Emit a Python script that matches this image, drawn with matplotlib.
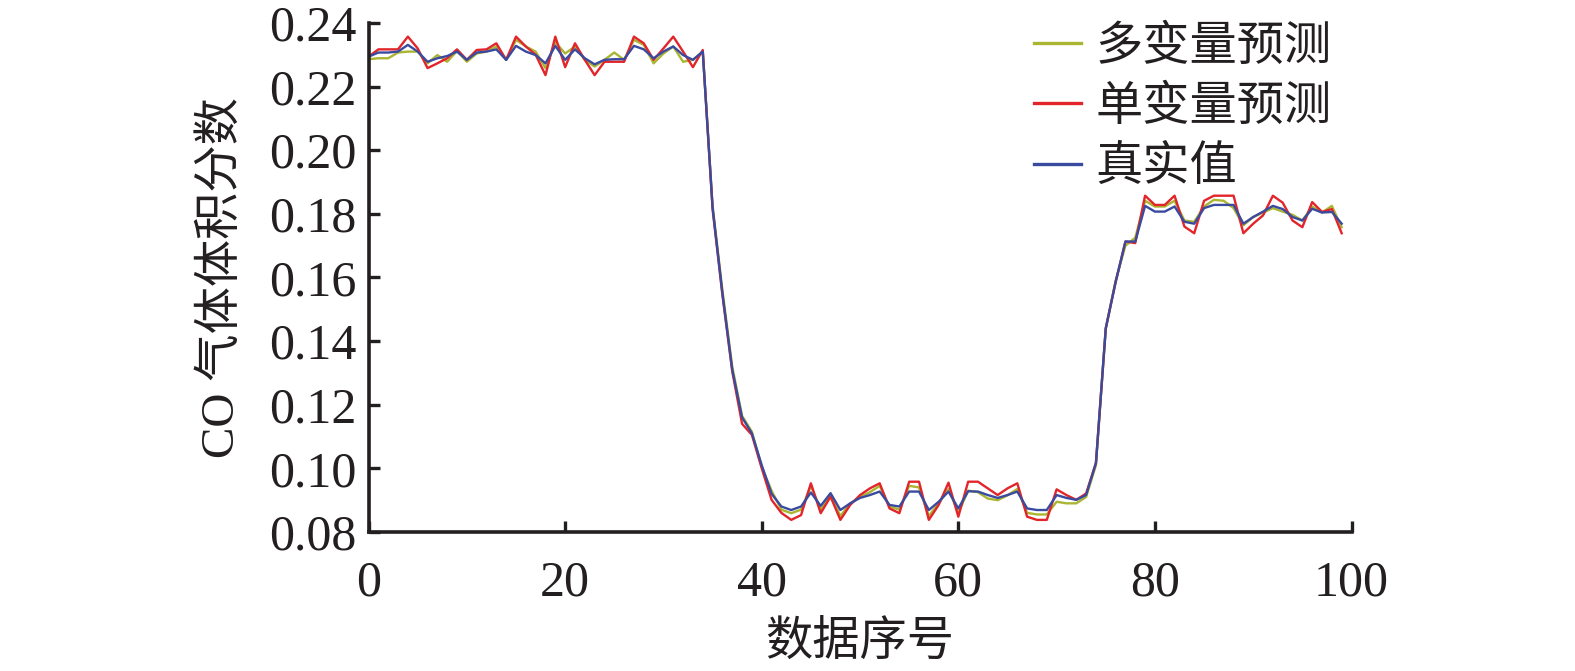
import matplotlib
matplotlib.use("Agg")
import matplotlib.pyplot as plt
import numpy as np

# 数据序号 0..99
x = np.arange(100)

# 真实值
real = [0.2294, 0.2307, 0.2307, 0.2310, 0.2331, 0.2310, 0.2278, 0.2289, 0.2296, 0.2310,
        0.2284, 0.2307, 0.2310, 0.2317, 0.2284, 0.2328, 0.2310, 0.2299, 0.2273, 0.2328,
        0.2284, 0.2317, 0.2289, 0.2270, 0.2284, 0.2286, 0.2286, 0.2328, 0.2317, 0.2289,
        0.2310, 0.2326, 0.2299, 0.2284, 0.2310, 0.1820, 0.1550, 0.1310, 0.1160, 0.1110,
        0.1010, 0.0920, 0.0880, 0.0869, 0.0880, 0.0924, 0.0882, 0.0922, 0.0869, 0.0890,
        0.0907, 0.0916, 0.0927, 0.0885, 0.0880, 0.0927, 0.0927, 0.0869, 0.0895, 0.0927,
        0.0874, 0.0928, 0.0927, 0.0916, 0.0907, 0.0916, 0.0927, 0.0874, 0.0869, 0.0869,
        0.0916, 0.0907, 0.0901, 0.0916, 0.1017, 0.1440, 0.1585, 0.1713, 0.1713, 0.1825,
        0.1807, 0.1807, 0.1823, 0.1775, 0.1769, 0.1818, 0.1828, 0.1828, 0.1828, 0.1769,
        0.1790, 0.1807, 0.1825, 0.1815, 0.1790, 0.1779, 0.1816, 0.1804, 0.1806, 0.1769]

# 单变量预测
single = [0.2294, 0.2317, 0.2317, 0.2317, 0.2357, 0.2320, 0.2258, 0.2273, 0.2289, 0.2317,
          0.2284, 0.2315, 0.2317, 0.2336, 0.2284, 0.2357, 0.2326, 0.2300, 0.2236, 0.2357,
          0.2261, 0.2336, 0.2284, 0.2236, 0.2278, 0.2278, 0.2278, 0.2357, 0.2336, 0.2284,
          0.2320, 0.2357, 0.2310, 0.2261, 0.2315, 0.1815, 0.1545, 0.1305, 0.1140, 0.1105,
          0.1000, 0.0901, 0.0860, 0.0838, 0.0853, 0.0953, 0.0859, 0.0911, 0.0838, 0.0885,
          0.0916, 0.0937, 0.0953, 0.0874, 0.0859, 0.0958, 0.0958, 0.0838, 0.0885, 0.0955,
          0.0848, 0.0958, 0.0958, 0.0937, 0.0916, 0.0937, 0.0953, 0.0848, 0.0838, 0.0838,
          0.0934, 0.0916, 0.0901, 0.0921, 0.1017, 0.1440, 0.1585, 0.1713, 0.1708, 0.1857,
          0.1828, 0.1828, 0.1857, 0.1760, 0.1739, 0.1841, 0.1857, 0.1857, 0.1857, 0.1739,
          0.1769, 0.1795, 0.1857, 0.1835, 0.1779, 0.1758, 0.1837, 0.1806, 0.1815, 0.1739]

# 多变量预测
multi = [0.2286, 0.2289, 0.2289, 0.2307, 0.2310, 0.2310, 0.2273, 0.2299, 0.2278, 0.2312,
         0.2278, 0.2304, 0.2310, 0.2326, 0.2284, 0.2347, 0.2326, 0.2310, 0.2258, 0.2340,
         0.2304, 0.2326, 0.2284, 0.2263, 0.2284, 0.2307, 0.2284, 0.2347, 0.2331, 0.2273,
         0.2304, 0.2326, 0.2278, 0.2284, 0.2310, 0.1825, 0.1560, 0.1320, 0.1165, 0.1115,
         0.1004, 0.0930, 0.0870, 0.0859, 0.0870, 0.0945, 0.0870, 0.0915, 0.0850, 0.0890,
         0.0910, 0.0925, 0.0945, 0.0880, 0.0870, 0.0945, 0.0940, 0.0850, 0.0890, 0.0935,
         0.0860, 0.0930, 0.0925, 0.0905, 0.0900, 0.0915, 0.0935, 0.0860, 0.0855, 0.0855,
         0.0895, 0.0890, 0.0890, 0.0910, 0.1010, 0.1440, 0.1590, 0.1700, 0.1725, 0.1841,
         0.1823, 0.1823, 0.1841, 0.1779, 0.1775, 0.1823, 0.1844, 0.1841, 0.1818, 0.1764,
         0.1790, 0.1804, 0.1818, 0.1807, 0.1797, 0.1779, 0.1823, 0.1804, 0.1825, 0.1758]

serif = ['Liberation Serif', 'Noto Sans CJK SC']
cjk = ['Noto Sans CJK SC', 'Liberation Serif']

fig = plt.figure(figsize=(15.75, 6.71), dpi=100)
ax = fig.add_axes([0.234, 0.2072, 0.6241, 0.7586])

ax.plot(x, multi, color='#aab531', lw=1.7, label='多变量预测')
ax.plot(x, single, color='#e2252b', lw=1.7, label='单变量预测')
ax.plot(x, real, color='#3a4b9f', lw=1.7, label='真实值')

ax.set_xlim(0, 100)
ax.set_ylim(0.08, 0.24)
ax.set_xticks([0, 20, 40, 60, 80, 100])
ax.set_yticks(np.arange(0.08, 0.2401, 0.02))
ax.set_yticklabels(['%.2f' % v for v in np.arange(0.08, 0.2401, 0.02)])

for s in ['top', 'right']:
    ax.spines[s].set_visible(False)
for s in ['left', 'bottom']:
    ax.spines[s].set_linewidth(2.6)
    ax.spines[s].set_color('#231f20')

ax.tick_params(direction='in', length=8, width=2.4, color='#231f20')
ax.tick_params(axis='x', pad=20)
ax.tick_params(axis='y', pad=9)
for lab in ax.get_xticklabels() + ax.get_yticklabels():
    lab.set_family(serif)
    lab.set_fontsize(36)
    lab.set_color('#231f20')

ax.set_xlabel('数据序号', fontsize=34, family=cjk, color='#231f20', labelpad=8)
ax.set_ylabel('CO 气体体积分数', fontsize=34, family=serif, color='#231f20', labelpad=18)

leg = ax.legend(loc='upper left', bbox_to_anchor=(1034 / 1575, 1 - 22 / 671),
                bbox_transform=fig.transFigure, borderpad=0, borderaxespad=0,
                frameon=False, handlelength=1.0, handletextpad=0.3, labelspacing=0.25,
                prop={'family': cjk, 'size': 34})
for t in leg.get_texts():
    t.set_color('#231f20')
for h in leg.get_lines():
    h.set_linewidth(2.4)

fig.savefig('out.png', dpi=100)
